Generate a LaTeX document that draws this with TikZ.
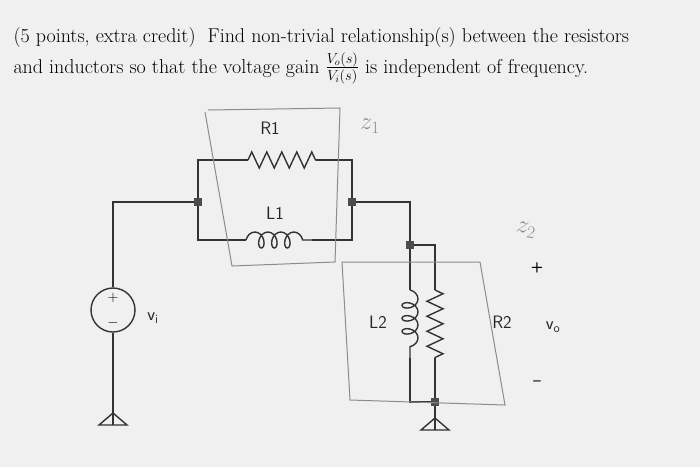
\documentclass[tikz,border=0pt]{standalone}
\usepackage{amsmath}
\usetikzlibrary{positioning,decorations.pathmorphing}
\tikzset{
  wire/.style={line width=1.4pt,black!80},
  jct/.style={fill=black!70,minimum size=8pt,inner sep=0pt},
  lbl/.style={font=\sffamily\fontsize{18}{21}\selectfont,black!85},
  pencil/.style={black!45,line width=1pt},
  res/.style={decorate,decoration={zigzag,segment length=15pt,amplitude=8pt}},
  coil/.style={decorate,decoration={coil,aspect=0.7,segment length=13pt,amplitude=8pt}}
}
\begin{document}
\begin{tikzpicture}[x=1pt,y=-1pt]
        % background
        \fill[gray!12] (0,0) rectangle (700,467);
        \useasboundingbox (0,0) rectangle (700,467);

        % question text
        \node[anchor=west,font=\fontsize{20}{23}\selectfont] (q1) at (10,38) {(5 points, extra credit)\ \ Find non-trivial relationship(s) between the resistors};
        \node[anchor=west,font=\fontsize{20}{23}\selectfont] (q2) at (10,68) {and inductors so that the voltage gain $\frac{V_o(s)}{V_i(s)}$ is independent of frequency.};

        % junctions
        \node[jct] (jl) at (198,202) {};
        \node[jct] (jr) at (352,202) {};
        \node[jct] (jt) at (410,245) {};
        \node[jct] (jb) at (435,402) {};

        % source
        \node[draw,line width=1.4pt,black!80,circle,minimum size=44pt,inner sep=0pt] (src) at (113,310) {};
        \node[font=\Large] at (113,298) {$+$};
        \node[font=\Large] at (113,323) {$-$};
        \coordinate (tl) at (113,202);
        \draw[wire] (src.north) -- (tl) -- (jl);

        % Z1: R1 parallel L1
        \coordinate (r1a) at (198,160);
        \coordinate (r1b) at (352,160);
        \coordinate (l1a) at (198,240);
        \coordinate (l1b) at (352,240);
        \draw[wire] (jl) -- (r1a) -- (248,160);
        \draw[wire,res] (248,160) -- (316,160);
        \draw[wire] (316,160) -- (r1b) -- (jr);
        \draw[wire] (jl) -- (l1a) -- (246,240);
        \draw[wire,coil] (246,240) -- (312,240);
        \draw[wire] (312,240) -- (l1b) -- (jr);
        \node[lbl] (R1) at (270,128) {R1};
        \node[lbl] (L1) at (275,213) {L1};

        % Z2: L2 parallel R2
        \coordinate (tr) at (410,202);
        \coordinate (r2t) at (435,245);
        \coordinate (l2b) at (410,402);
        \draw[wire] (jr) -- (tr) -- (jt);
        \draw[wire] (jt) -- (410,290);
        \draw[wire,coil] (410,290) -- (410,358);
        \draw[wire] (410,358) -- (l2b) -- (jb);
        \draw[wire] (jt) -- (r2t) -- (435,290);
        \draw[wire,res] (435,290) -- (435,358);
        \draw[wire] (435,358) -- (jb);
        \node[lbl] (L2) at (378,322) {L2};
        \node[lbl] (R2) at (502,322) {R2};

        % grounds
        \coordinate (g1) at (113,425);
        \coordinate (g2) at (435,430);
        \draw[wire] (src.south) -- (g1);
        \draw[wire] (jb) -- (g2);
        \foreach \g in {g1,g2}
          \draw[wire] ([xshift=-14pt]\g) -- ([xshift=14pt]\g) -- ([yshift=12pt]\g) -- cycle;

        % output and input labels
        \node[lbl] (vi) at (153,318) {v\textsubscript{i}};
        \node[lbl] (vo) at (553,327) {v\textsubscript{o}};
        \node[font=\sffamily\Large\bfseries] (plus) at (537,268) {+};
        \node[font=\sffamily\Large\bfseries] (minus) at (537,383) {--};

        % pencil marks
        \draw[pencil] (208,110) -- (340,108) -- (335,262) -- (232,266) -- (205,112);
        \draw[pencil] (342,262) -- (480,262) -- (505,405) -- (350,400) -- cycle;
        \node[pencil,font=\fontsize{26}{28}\selectfont] (z1) at (370,126) {$z_1$};
        \node[pencil,font=\fontsize{26}{28}\selectfont,rotate=-10] (z2) at (526,230) {$z_2$};
\end{tikzpicture}
\end{document}
